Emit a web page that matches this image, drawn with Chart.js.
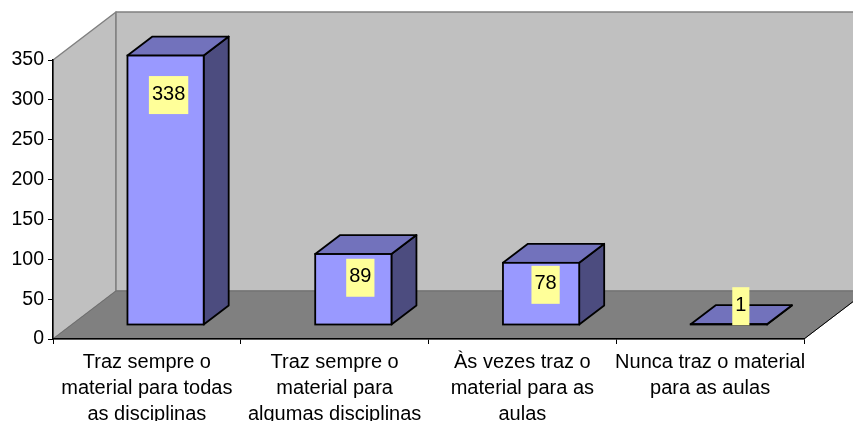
<!DOCTYPE html>
<html><head><meta charset="utf-8">
<style>html,body{margin:0;padding:0;background:#fff;overflow:hidden}canvas{display:block}</style>
<script src="https://cdn.jsdelivr.net/npm/chart.js@4"></script>
</head><body><canvas id="c" width="853" height="421"></canvas>
<script>
const categories = [
  ["Traz sempre o","material para todas","as disciplinas"],
  ["Traz sempre o","material para","algumas disciplinas"],
  ["Às vezes traz o","material para as","aulas"],
  ["Nunca traz o material","para as aulas"]
];
const values = [338, 89, 78, 1];
const yMax = 350, yStep = 50;

// layout of the pseudo-3D box (pixels)
const DEPTH_X = 63, DEPTH_Y = 48;     // wall depth
const SHIFT_X = 18.7, SHIFT_Y = 14;   // bar position inside the floor depth
const BAR_DX = 25, BAR_DY = 19;       // bar depth
const labelDX = [3, 7, 4.5, 12];      // data-label offset from bar centre
const labelDY = [39.5, 23.7, 22, -18];// data-label centre offset from bar top
const FONT = '20px "Liberation Sans", Arial, sans-serif';

function poly(ctx, pts, fill, stroke, lw){
  ctx.beginPath();
  pts.forEach((p,i)=> i?ctx.lineTo(p[0],p[1]):ctx.moveTo(p[0],p[1]));
  ctx.closePath();
  if(fill){ctx.fillStyle=fill;ctx.fill();}
  if(stroke){ctx.strokeStyle=stroke;ctx.lineWidth=lw;ctx.lineJoin='round';ctx.stroke();}
}

const box3d = {
  id:'box3d',
  beforeDraw(chart){
    const {ctx,chartArea:a}=chart;
    const L=a.left,R=a.right,T=a.top,B=a.bottom,dx=DEPTH_X,dy=DEPTH_Y;
    ctx.save();
    poly(ctx,[[L,T],[L+dx,T-dy],[L+dx,B-dy],[L,B]],'#C0C0C0','#808080',1.5);
    poly(ctx,[[L+dx,T-dy],[R+dx,T-dy],[R+dx,B-dy],[L+dx,B-dy]],'#C0C0C0','#808080',1.5);
    poly(ctx,[[L,B],[R,B],[R+dx,B-dy],[L+dx,B-dy]],'#808080','#6E6E6E',1);
    ctx.strokeStyle='#000';ctx.lineWidth=1;
    ctx.beginPath();ctx.moveTo(R,B);ctx.lineTo(R+dx,B-dy);ctx.stroke();
    ctx.restore();
  },
  beforeDatasetsDraw(chart){
    const {ctx}=chart;
    ctx.save();
    chart.getDatasetMeta(0).data.forEach(b=>{
      const hw=b.width/2,x0=b.x-hw+SHIFT_X,x1=b.x+hw+SHIFT_X,yt=b.y-SHIFT_Y,yb=b.base-SHIFT_Y;
      poly(ctx,[[x1,yt],[x1+BAR_DX,yt-BAR_DY],[x1+BAR_DX,yb-BAR_DY],[x1,yb]],'#4C4C7F','#000',1.8);
      poly(ctx,[[x0,yt],[x0+BAR_DX,yt-BAR_DY],[x1+BAR_DX,yt-BAR_DY],[x1,yt]],'#7272BC','#000',1.8);
    });
    ctx.restore();
    ctx.save();
    ctx.translate(SHIFT_X,-SHIFT_Y);
  },
  afterDatasetsDraw(chart){
    const {ctx}=chart;
    ctx.restore();
    ctx.save();
    // front-face outline, kept crisp even for the flat bar
    chart.getDatasetMeta(0).data.forEach(b=>{
      const hw=b.width/2;
      ctx.strokeStyle='#000';ctx.lineWidth=1.8;
      ctx.strokeRect(b.x-hw+SHIFT_X,b.y-SHIFT_Y,b.width,b.base-b.y);
    });
    ctx.font=FONT;ctx.textAlign='center';ctx.textBaseline='middle';
    chart.getDatasetMeta(0).data.forEach((b,i)=>{
      const t=String(values[i]);
      const cx=b.x+SHIFT_X+labelDX[i],cy=b.y-SHIFT_Y+labelDY[i];
      const w=ctx.measureText(t).width+6,h=38;
      ctx.fillStyle='#FFFF99';ctx.fillRect(cx-w/2,cy-h/2,w,h);
      ctx.fillStyle='#000';ctx.fillText(t,cx,cy-1);
    });
    ctx.restore();
  }
};

const ctx=document.getElementById('c').getContext('2d');
const tickFamily='"Liberation Sans", Arial, sans-serif';
new Chart(ctx,{
  type:'bar',
  data:{labels:categories,datasets:[{
    data:values,backgroundColor:'#9999FF',borderWidth:0,
    clip:false,barPercentage:0.406,categoryPercentage:1
  }]},
  options:{
    responsive:false,animation:false,
    layout:{padding:{top:60,right:49,left:0,bottom:0}},
    plugins:{legend:{display:false},tooltip:{enabled:false}},
    scales:{
      x:{
        grid:{display:true,drawOnChartArea:false,color:'#000',tickLength:5},
        border:{color:'#000',width:1.5},
        ticks:{color:'#000',font:{family:tickFamily,size:20,lineHeight:1.3},padding:5,autoSkip:false,maxRotation:0,minRotation:0},
        afterFit(s){s.height=82;}
      },
      y:{
        min:0,max:yMax,
        grid:{display:true,drawOnChartArea:false,color:'#000',tickLength:5},
        border:{color:'#000',width:1.5},
        ticks:{color:'#000',font:{family:tickFamily,size:19.5},stepSize:yStep,padding:4},
        afterFit(s){s.width=53;}
      }
    }
  },
  plugins:[box3d]
});
</script></body></html>
